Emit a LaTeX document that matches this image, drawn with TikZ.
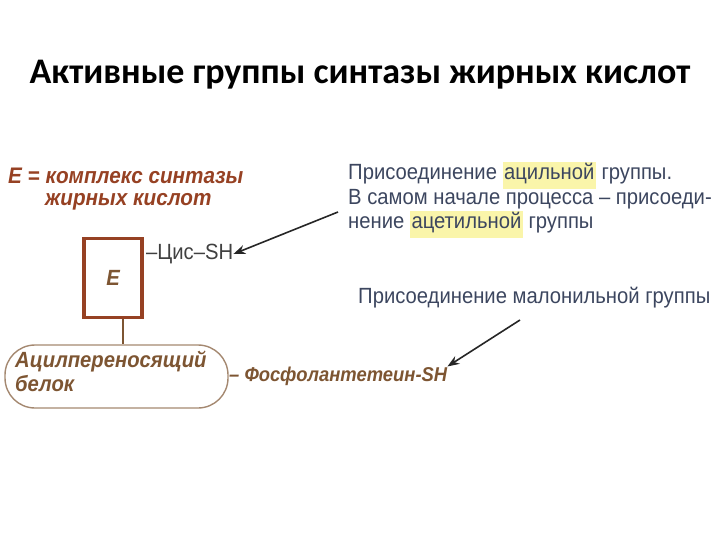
\documentclass[tikz,border=0pt]{standalone}
\usepackage{fontspec}
\usetikzlibrary{arrows.meta}
\setmainfont{Liberation Sans}[FakeStretch=0.92]
\newfontfamily\titlefont{Carlito}
\definecolor{brn}{RGB}{150,65,35}
\definecolor{brn2}{RGB}{125,85,50}
\definecolor{txt}{RGB}{60,70,95}
\definecolor{hl}{RGB}{250,245,170}
\newcommand\hlw[1]{{\setlength\fboxsep{1.5pt}\colorbox{hl}{\strut #1}}}
\tikzset{
  body/.style={font=\fontsize{22}{24}\selectfont, text=txt, inner sep=0pt, anchor=west},
  ital/.style={font=\fontsize{22.5}{24}\selectfont\bfseries\itshape, inner sep=0pt, anchor=west},
  arr/.style={-{Stealth[length=12pt,width=9pt]}, line width=1.6pt, draw=black!85}
}
\begin{document}
\begin{tikzpicture}[x=1pt,y=-1pt]
\useasboundingbox (0,0) rectangle (720,540);
\node (title) at (360,75) {\titlefont\bfseries\fontsize{36}{40}\selectfont Активные группы синтазы жирных кислот};
\node[ital, text=brn] (h1) at (8,176) {E = комплекс синтазы};
\node[ital, text=brn] (h2) at (45,202) {жирных кислот};
\node[draw=brn, line width=3.5pt, minimum width=58pt, minimum height=79pt, inner sep=0pt] (E) at (113,278) {\fontsize{22}{24}\selectfont\bfseries\itshape\color{brn2}E};
\node[body, text=black!75] (cys) at (146,254) {–Цис–SH};
\node[draw=brn2!70, line width=1.4pt, rounded corners=30pt, minimum width=223pt, minimum height=63pt] (acp) at (116.5,376.5) {};
\node[font=\fontsize{22}{24}\selectfont\bfseries\itshape, text=brn2, align=left, anchor=north west, inner sep=0pt] (acpt) at (15,351) {Ацилпереносящий\\белок};
\draw[line width=1.2pt, draw=brn2] (E.south -| 123,0) -- (acp.north -| 123,0);
\node[ital, font=\fontsize{20}{24}\selectfont\bfseries\itshape, text=brn2] (ph) at (229,376) {– Фосфолантетеин-SH};
\node[body] (r1) at (348,175) {Присоединение \hlw{ацильной} группы.};
\node[body] (r2) at (348,199) {В самом начале процесса – присоеди-};
\node[body] (r3) at (348,224) {нение \hlw{ацетильной} группы};
\node[body] (m) at (358,298) {Присоединение малонильной группы};
\coordinate (a1) at (338,212);
\coordinate (a2) at (520,320);
\draw[arr] (a1) -- (cys.east);
\draw[arr] (a2) -- (ph.north east);
\end{tikzpicture}
\end{document}
